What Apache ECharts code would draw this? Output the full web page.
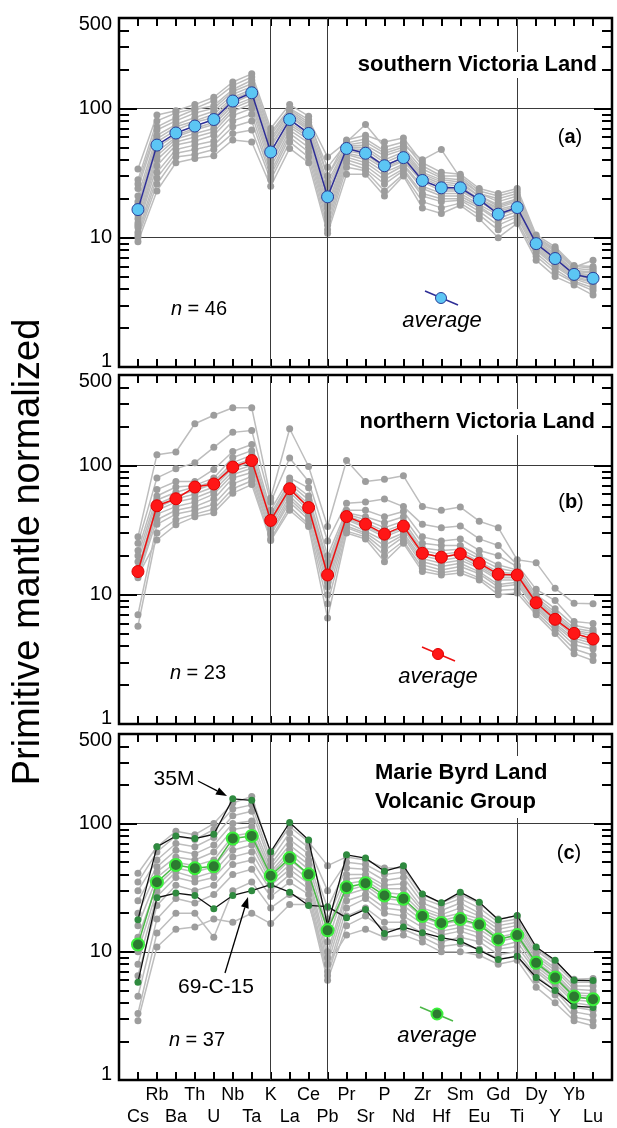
<!DOCTYPE html>
<html><head><meta charset="utf-8">
<script src="https://cdn.jsdelivr.net/npm/echarts@6/dist/echarts.min.js"></script>
<style>html,body{margin:0;padding:0;background:#fff}#c{width:617px;height:1128px}</style>
</head><body><div id="c"></div>
<script>
// ---------- data ----------
const elements = ['Cs','Rb','Ba','Th','U','Nb','Ta','K','La','Ce','Pb','Pr','Sr','P','Nd','Zr','Hf','Sm','Eu','Gd','Ti','Dy','Y','Yb','Lu'];
const yLabelValues = [1, 10, 100, 500];
const majorTicks = [10, 100];
const minorTicks = [2,3,4,5,6,7,8,9,20,30,40,50,60,70,80,90,200,300,400];
const dividerElements = [7, 10, 20]; // K, Pb, Ti

// (a) southern Victoria Land
const avgSVL = [16.5, 52, 64.5, 73, 82, 114, 132, 46, 82, 64, 20.7, 49, 45, 36, 41.6, 27.7, 24.3, 24.3, 19.7, 15.2, 17.1, 9.0, 6.9, 5.2, 4.85];
const samplesSVL = [
 [34, 89, 96, 107, 122, 160, 185, 70, 107, 87, 30, 57, 62, 55, 59, 38, 32, 31, 24, 22, 24, 10.5, 8.5, 6.1, 6.0],
 [28, 80, 92, 100, 115, 150, 175, 65, 100, 82, 42, 55, 75, 50, 55, 36, 30, 30, 23, 21, 23, 10.2, 8.2, 6.0, 5.8],
 [26, 72, 85, 98, 105, 140, 165, 62, 98, 78, 35, 54, 58, 47, 52, 40, 48, 29, 22, 20, 22, 10, 8.0, 5.9, 6.7],
 [24, 68, 80, 92, 100, 135, 155, 58, 95, 75, 30, 52, 55, 45, 50, 34, 29, 28, 22, 19, 21, 9.8, 7.8, 5.8, 5.6],
 [21, 62, 75, 85, 95, 128, 148, 55, 92, 72, 27, 51, 52, 43, 48, 32, 28, 27, 21, 18, 20, 9.6, 7.5, 5.6, 5.4],
 [19, 58, 72, 80, 90, 122, 140, 52, 88, 70, 25, 50, 50, 40, 46, 31, 27, 26, 21, 17.5, 19.5, 9.4, 7.3, 5.5, 5.3],
 [18, 55, 68, 78, 85, 118, 135, 50, 86, 68, 23, 49, 48, 38, 44, 30, 26, 25, 20, 17, 19, 9.2, 7.2, 5.4, 5.1],
 [15, 50, 62, 70, 78, 110, 128, 45, 82, 65, 20, 48, 46, 36, 42, 29, 25, 24, 20, 16.5, 18, 9.0, 7.0, 5.3, 5.0],
 [14, 46, 60, 68, 75, 105, 120, 42, 78, 62, 18, 47, 44, 35, 40, 28, 24, 23.5, 19.5, 16, 17.5, 8.8, 6.8, 5.2, 4.9],
 [13, 43, 58, 64, 70, 100, 115, 40, 75, 60, 17, 45, 42, 34, 39, 27, 23, 23, 19, 15.5, 17, 8.6, 6.6, 5.1, 4.8],
 [12.5, 40, 55, 60, 66, 95, 108, 38, 72, 57, 15.5, 44, 40, 32, 37, 25, 22, 22, 18, 15, 16.5, 8.4, 6.4, 5.0, 4.6],
 [12, 36, 52, 56, 62, 88, 100, 35, 68, 54, 14.5, 42, 38, 30, 36, 24, 21, 21, 17.5, 14, 16, 8.2, 6.2, 4.9, 4.5],
 [11, 32, 48, 52, 56, 80, 90, 32, 64, 50, 13.5, 40, 36, 28, 34, 22, 20, 20, 17, 13.5, 15, 8.0, 6.0, 4.8, 4.3],
 [10.5, 29, 45, 48, 52, 72, 80, 30, 60, 46, 12.5, 38, 34, 26, 33, 21, 19, 19.5, 16, 12.5, 14.5, 7.6, 5.7, 4.6, 4.1],
 [10, 26, 42, 44, 48, 64, 68, 28, 55, 42, 11.5, 35, 33, 23, 31, 19, 17, 18.5, 15, 11.5, 13.5, 7.2, 5.4, 4.5, 3.9],
 [9.3, 23, 38, 41, 43, 57, 55, 25, 49, 38, 10.8, 31, 31, 21, 30, 17, 15.4, 17.8, 14, 10, 12.9, 6.7, 5.0, 4.3, 3.6]
];

// (b) northern Victoria Land
const avgNVL = [15.1, 48.7, 55.2, 68, 71.8, 97, 109, 37.5, 66, 47.2, 14.2, 40.2, 35.1, 29.4, 33.9, 20.9, 19.5, 20.7, 17.5, 14.4, 14.2, 8.67, 6.45, 5.02, 4.54];
const samplesNVL = [
 [28, 121, 127, 210, 244, 279, 279, 56, 192, 98, 33.7, 109, 75, 78, 83, 48, 45, 47.6, 37, 33, 18.6, 17.7, 11.2, 8.6, 8.5],
 [25, 80, 94, 105, 138, 180, 186, 52, 114, 75, 26, 51, 52, 55, 48, 35, 33, 34, 27, 24, 17, 11, 9.0, 6.2, 6.0],
 [22, 65, 75, 75, 93, 128, 145, 45, 80, 67, 20, 45, 45, 40, 44, 28, 26, 27, 22, 20, 16.5, 10, 7.8, 5.8, 5.4],
 [20, 58, 68, 70, 80, 115, 130, 42, 75, 58, 18, 43, 40, 36, 40, 25, 24, 24, 20, 17, 15.5, 9.6, 7.3, 5.5, 5.2],
 [18, 54, 62, 68, 75, 105, 120, 40, 72, 54, 17, 42, 38, 33, 37, 23, 22, 22.5, 19, 16, 15, 9.2, 7.0, 5.3, 5.0],
 [16, 50, 58, 64, 72, 100, 112, 38, 68, 50, 15.5, 41, 36, 31, 35, 22, 20.5, 21.5, 18, 15, 14.5, 9.0, 6.7, 5.2, 4.8],
 [15, 47, 55, 60, 68, 95, 105, 36, 65, 47, 14.5, 39, 34, 29, 33, 21, 19.5, 20.5, 17, 14, 14, 8.7, 6.5, 5.0, 4.6],
 [14.5, 45, 52, 56, 64, 90, 100, 34, 62, 45, 13.5, 38, 33, 28, 32, 20, 18.5, 19.5, 16.5, 13.5, 13.5, 8.4, 6.3, 4.8, 4.4],
 [14, 42, 48, 52, 60, 85, 95, 32, 58, 42, 12.5, 36, 31, 26, 30, 19, 17.5, 18.5, 16, 13, 13, 8.2, 6.0, 4.6, 4.2],
 [13.5, 38, 45, 48, 55, 80, 88, 30, 55, 40, 11.5, 34, 30, 24, 29, 18, 16.5, 17.5, 15, 12, 12.5, 8.0, 5.8, 4.4, 4.0],
 [7, 35, 42, 45, 50, 72, 82, 29, 52, 38, 10, 33, 29, 22, 28, 17, 15.5, 16.5, 14.5, 11.5, 12, 7.7, 5.6, 4.1, 3.8],
 [5.7, 30, 38, 42, 46, 66, 76, 27, 48, 35, 8.5, 31, 28, 20, 26, 16, 14.8, 15.5, 13.5, 10.8, 11, 7.3, 5.3, 3.8, 3.4],
 [14, 26.5, 34.7, 40, 43, 61, 71, 26.2, 45, 33.7, 6.6, 30, 27, 18, 25, 15.1, 14.2, 14.7, 13, 10, 10.3, 7.0, 5.0, 3.5, 3.1]
];

// (c) Marie Byrd Land Volcanic Group
const avgMBL = [11.4, 34.9, 47.5, 44.8, 46.4, 76.5, 80.2, 39.2, 53.8, 40.2, 14.7, 31.9, 34.3, 27.5, 25.9, 19.0, 16.8, 18.0, 16.3, 12.5, 13.5, 8.2, 6.3, 4.48, 4.27];
const sample35M = [17.8, 65.9, 80, 76.5, 82.6, 156, 152, 60.2, 102, 74.6, 16, 57.1, 53.8, 42.5, 46.9, 28.3, 24.1, 29.2, 24.4, 17.8, 19.2, 10.9, 8.6, 6.0, 5.96];
const sample69C15 = [5.8, 26.4, 28.7, 27.5, 21.7, 27.5, 30.0, 33.4, 29.2, 23.0, 22.5, 18.4, 21.4, 13.9, 15.6, 14.1, 12.9, 12.1, 10.3, 8.7, 9.25, 6.3, 4.99, 3.77, 3.68];
const samplesMBL = [
 [41, 66, 87, 82, 100, 145, 163, 58, 95, 72, 47, 55, 52, 45, 45, 28, 24, 28, 24, 18, 19, 10.6, 8.4, 6.1, 6.2],
 [35, 60, 80, 75, 90, 130, 140, 52, 85, 65, 30, 50, 48, 40, 42, 26, 23, 26, 22, 17, 18, 10.2, 8.0, 5.8, 5.8],
 [30, 52, 70, 66, 78, 115, 125, 48, 75, 58, 22, 45, 44, 36, 38, 24, 21, 24, 20, 16, 17, 9.6, 7.5, 5.4, 5.4],
 [25, 46, 62, 58, 68, 100, 105, 45, 68, 52, 18, 40, 40, 33, 34, 22, 19.5, 22, 19, 15, 16, 9.2, 7.2, 5.1, 5.0],
 [20, 42, 55, 52, 60, 90, 95, 42, 62, 48, 15, 37, 38, 31, 31, 21, 18.5, 20, 18, 14, 15, 8.8, 6.8, 4.8, 4.7],
 [16, 38, 50, 47, 52, 80, 85, 40, 58, 44, 12, 34, 36, 29, 28, 20, 17.5, 19, 17, 13, 14, 8.4, 6.5, 4.6, 4.5],
 [13, 33, 45, 42, 46, 70, 75, 37, 52, 40, 10, 30, 33, 26, 25, 18.5, 16.5, 17.5, 16, 12.5, 13.5, 8.0, 6.2, 4.4, 4.3],
 [10, 30, 42, 38, 42, 62, 68, 35, 48, 37, 9, 28, 31, 24, 23, 17.5, 15.5, 16.5, 15, 12, 13, 7.7, 5.9, 4.2, 4.1],
 [8, 27, 38, 35, 38, 55, 60, 33, 44, 34, 8, 25, 28, 22, 21, 16.5, 14.5, 15.5, 14, 11, 12, 7.3, 5.6, 4.0, 3.8],
 [6.5, 23, 33, 30, 33, 48, 52, 30, 40, 31, 7, 22, 26, 20, 19, 15.5, 13.5, 14.5, 13, 10.5, 11, 7.0, 5.3, 3.7, 3.5],
 [4.5, 18, 26, 24, 28, 40, 44, 27, 35, 28, 6.5, 19, 22, 17, 17, 14, 12, 13, 12, 9.5, 10, 6.5, 5.0, 3.4, 3.2],
 [3.3, 14, 20, 20, 13, 30, 35, 22, 28, 25, 6.0, 16, 19, 15, 15, 13, 11, 11.5, 10.5, 8.8, 9.2, 6.0, 4.6, 3.1, 2.9],
 [2.9, 10.9, 15, 15.6, 18, 17, 20, 16.6, 23.4, 23.4, 8, 13.5, 15, 13, 13.5, 11.9, 10, 10, 9.4, 8, 8.6, 5.3, 4.0, 2.9, 2.65]
];

// ---------- layout / style ----------
const FONT = "'Liberation Sans', Arial, Helvetica, sans-serif";
const GRID_TOPS = [18, 375, 734];
const GRID_H = 349;
const chart = echarts.init(document.getElementById('c'), null, {renderer: 'canvas'});

const grids = GRID_TOPS.map(t => ({left: 119, right: 5, top: t, height: GRID_H, show: true,
  borderColor: '#000', borderWidth: 2.5, backgroundColor: 'transparent'}));

const xAxes = [];
GRID_TOPS.forEach((t, gi) => {
  ['bottom', 'top'].forEach(pos => {
    xAxes.push({
      type: 'value', gridIndex: gi, position: pos, min: -1, max: 25, interval: 1,
      axisLine: {show: false, onZero: false}, splitLine: {show: false},
      axisTick: {show: true, inside: true, length: 8, lineStyle: {color: '#000', width: 2}},
      axisLabel: (gi === 2 && pos === 'bottom') ? {
        show: true, fontFamily: FONT, fontSize: 18, color: '#000', lineHeight: 22, margin: 4,
        verticalAlign: 'top',
        formatter: v => {
          if (v < 0 || v > 24) return '';
          const n = elements[v];
          return v % 2 === 1 ? n + '\n\u00a0' : '\u00a0\n' + n;
        }
      } : {show: false}
    });
  });
});

const yAxes = [];
GRID_TOPS.forEach((t, gi) => {
  const base = {type: 'log', logBase: 10, gridIndex: gi, min: 1, max: 500,
    axisLine: {show: false, onZero: false}, splitLine: {show: false}, axisLabel: {show: false}};
  const tickStyle = {color: '#000', width: 2};
  yAxes.push(Object.assign({}, base, {position: 'left',
    axisLabel: {show: true, customValues: yLabelValues, fontFamily: FONT, fontSize: 20, color: '#000', margin: 7,
      formatter: v => v === 1 ? '{lo|1}' : (v === 500 ? '{hi|500}' : String(v)),
      rich: {lo: {fontFamily: FONT, fontSize: 20, color: '#000', padding: [0, 0, 12, 0]},
             hi: {fontFamily: FONT, fontSize: 20, color: '#000', padding: [12, 0, 0, 0]}}},
    axisTick: {show: true, inside: true, length: 18, customValues: majorTicks, lineStyle: tickStyle},
    splitLine: {show: true, lineStyle: {color: '#3a3a3a', width: 1}}}));
  yAxes.push(Object.assign({}, base, {position: 'left',
    axisTick: {show: true, inside: true, length: 10, customValues: minorTicks, lineStyle: tickStyle}}));
  yAxes.push(Object.assign({}, base, {position: 'right',
    axisTick: {show: true, inside: true, length: 18, customValues: majorTicks, lineStyle: tickStyle}}));
  yAxes.push(Object.assign({}, base, {position: 'right',
    axisTick: {show: true, inside: true, length: 10, customValues: minorTicks, lineStyle: tickStyle}}));
});

const toXY = vals => vals.map((v, i) => [i, v]);
const series = [];
function divider(gi) {
  series.push({type: 'line', xAxisIndex: gi * 2, yAxisIndex: gi * 4, data: [], silent: true, z: 1,
    markLine: {silent: true, symbol: 'none', animation: false, label: {show: false},
      lineStyle: {color: '#3a3a3a', width: 1, type: 'solid'},
      data: dividerElements.map(x => ({xAxis: x}))}});
}
function grayLines(gi, rows) {
  rows.forEach(r => series.push({type: 'line', xAxisIndex: gi * 2, yAxisIndex: gi * 4, data: toXY(r),
    symbol: 'circle', symbolSize: 7, showSymbol: true, silent: true, z: 2,
    lineStyle: {color: '#bdbdbd', width: 1.5}, itemStyle: {color: '#9d9d9d'}}));
}
function line(gi, r, lineColor, lw, symSize, fill, border, bw, z) {
  series.push({type: 'line', xAxisIndex: gi * 2, yAxisIndex: gi * 4, data: toXY(r),
    symbol: 'circle', symbolSize: symSize, showSymbol: true, silent: true, z: z,
    lineStyle: {color: lineColor, width: lw},
    itemStyle: {color: fill, borderColor: border, borderWidth: bw}});
}
[0, 1, 2].forEach(divider);
grayLines(0, samplesSVL);
line(0, avgSVL, '#2e2e96', 1.5, 12, '#5cc6f4', '#2b3f98', 1, 5);
grayLines(1, samplesNVL);
line(1, avgNVL, '#ee1111', 1.5, 12, '#ff1616', '#e00000', 1, 5);
grayLines(2, samplesMBL);
line(2, sample35M, '#111', 1.3, 7, '#2f8a3f', '#2f8a3f', 0, 4);
line(2, sample69C15, '#111', 1.3, 7, '#2f8a3f', '#2f8a3f', 0, 4);
line(2, avgMBL, '#4cb848', 1.5, 12, '#2c7a30', '#3cf03c', 2, 5);

// ---------- text & decorations ----------
function txt(x, y, text, opts) {
  return Object.assign({type: 'text', x: x, y: y, z: 100, silent: true,
    style: Object.assign({text: text, fontFamily: FONT, fontSize: 20, fill: '#000',
      textAlign: 'center', align: 'center', textVerticalAlign: 'middle', verticalAlign: 'middle'}, opts || {})});
}
function legendKey(x1, y1, x2, y2, cx, cy, lineColor, fill, stroke, sw, tx, ty) {
  return [
    {type: 'line', z: 100, silent: true, shape: {x1: x1, y1: y1, x2: x2, y2: y2}, style: {stroke: lineColor, lineWidth: 1.5}},
    {type: 'circle', z: 101, silent: true, shape: {cx: cx, cy: cy, r: 5.5}, style: {fill: fill, stroke: stroke, lineWidth: sw}},
    txt(tx, ty, 'average', {fontSize: 22, fontStyle: 'italic'})
  ];
}
function arrow(x1, y1, x2, y2) {
  const a = Math.atan2(y2 - y1, x2 - x1), L = 11, W = 4;
  const bx = x2 - L * Math.cos(a), by = y2 - L * Math.sin(a);
  const px = -Math.sin(a) * W, py = Math.cos(a) * W;
  return [
    {type: 'line', z: 100, silent: true, shape: {x1: x1, y1: y1, x2: bx, y2: by}, style: {stroke: '#000', lineWidth: 1.3}},
    {type: 'polygon', z: 100, silent: true, shape: {points: [[x2, y2], [bx + px, by + py], [bx - px, by - py]]}, style: {fill: '#000'}}
  ];
}
const boldRich = {p: {fontFamily: FONT, fontSize: 20, fill: '#000'}, b: {fontFamily: FONT, fontSize: 20, fontWeight: 'bold', fill: '#000'}};
const italRich = {i: {fontFamily: FONT, fontSize: 20, fontStyle: 'italic', fill: '#000'}, p: {fontFamily: FONT, fontSize: 20, fill: '#000'}};

const graphics = [
  // y-axis title
  {type: 'text', x: 29, y: 552, rotation: Math.PI / 2, z: 100, silent: true,
   style: {text: 'Primitive mantle normalized', fontFamily: FONT, fontSize: 38, fill: '#000',
     textAlign: 'center', align: 'center', textVerticalAlign: 'middle', verticalAlign: 'middle'}},
  // panel titles
  txt(600, 65, 'southern Victoria Land', {fontSize: 22, fontWeight: 'bold', textAlign: 'right', align: 'right', backgroundColor: '#fff', padding: [2, 3]}),
  txt(598, 422, 'northern Victoria Land', {fontSize: 22, fontWeight: 'bold', textAlign: 'right', align: 'right', backgroundColor: '#fff', padding: [2, 3]}),
  txt(372, 787, 'Marie Byrd Land\nVolcanic Group', {fontSize: 22, fontWeight: 'bold', textAlign: 'left', align: 'left', lineHeight: 29, backgroundColor: '#fff', padding: [2, 3]}),
  txt(570, 137, '{p|(}{b|a}{p|)}', {rich: boldRich}),
  txt(571, 502, '{p|(}{b|b}{p|)}', {rich: boldRich}),
  txt(569, 853, '{p|(}{b|c}{p|)}', {rich: boldRich}),
  txt(199, 309, '{i|n}{p| = 46}', {rich: italRich}),
  txt(198, 673, '{i|n}{p| = 23}', {rich: italRich}),
  txt(197, 1040, '{i|n}{p| = 37}', {rich: italRich}),
  // sample labels
  txt(174, 779, '35M', {fontSize: 21}),
  txt(216, 987, '69-C-15', {fontSize: 21})
].concat(
  legendKey(425, 291, 458, 305, 441, 298, '#2e2e96', '#5cc6f4', '#2b3f98', 1, 442, 321),
  legendKey(422, 647, 455, 661, 438, 654, '#ee1111', '#ff1616', '#e00000', 1, 438, 677),
  legendKey(420, 1007, 453, 1021, 437, 1014, '#4cb848', '#2c7a30', '#3cf03c', 2, 437, 1036),
  arrow(198, 781, 227, 796),
  arrow(225, 973, 248, 897)
);

chart.setOption({
  animation: false,
  backgroundColor: '#fff',
  grid: grids,
  xAxis: xAxes,
  yAxis: yAxes,
  series: series,
  graphic: {elements: graphics}
});
</script>
</body></html>
